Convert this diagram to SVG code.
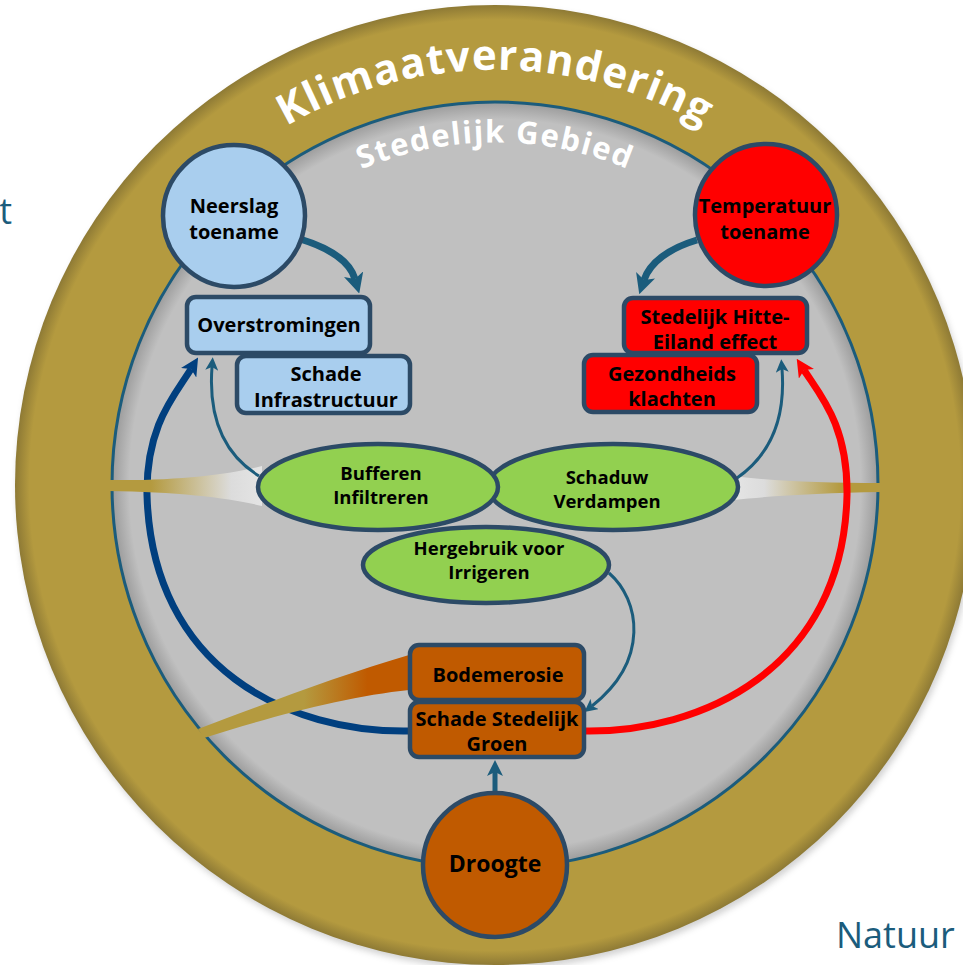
<svg xmlns="http://www.w3.org/2000/svg" width="963" height="965" viewBox="0 0 963 965">
<style>
.lbl{font-family:"Open Sans","Noto Sans","DejaVu Sans",sans-serif;font-weight:700;fill:#000;text-anchor:middle}
.box{stroke:#2C4A66;stroke-width:4.5}
.blue{fill:#A9CEEE}
.red{fill:#FF0000}
.green{fill:#92D050}
.orange{fill:#C05A00}
.thin{fill:none;stroke:#1B5C7C;stroke-width:3}
.title{font-family:"Open Sans","Noto Sans","DejaVu Sans",sans-serif;font-weight:700;fill:#fff}
.side{font-family:"Open Sans","Noto Sans","DejaVu Sans",sans-serif;font-size:36px;fill:#1B5C7C}
</style>
<defs>
<radialGradient id="gGold" cx="495" cy="485" r="480" gradientUnits="userSpaceOnUse">
<stop offset="0" stop-color="#B49A3F"/>
<stop offset="0.97" stop-color="#B49A3F"/>
<stop offset="1" stop-color="#8E7A35"/>
</radialGradient>
<radialGradient id="gGrey" cx="495" cy="485" r="383" gradientUnits="userSpaceOnUse">
<stop offset="0" stop-color="#C0C0C0"/>
<stop offset="0.955" stop-color="#C0C0C0"/>
<stop offset="1" stop-color="#9C9C9C"/>
</radialGradient>
<linearGradient id="rayL" x1="108" y1="0" x2="262" y2="0" gradientUnits="userSpaceOnUse">
<stop offset="0" stop-color="#B49A3F"/>
<stop offset="0.28" stop-color="#B49A3F"/>
<stop offset="0.8" stop-color="#DCDCDC"/>
<stop offset="1" stop-color="#E4E4E4"/>
</linearGradient>
<linearGradient id="rayR" x1="735" y1="0" x2="882" y2="0" gradientUnits="userSpaceOnUse">
<stop offset="0" stop-color="#E4E4E4"/>
<stop offset="0.2" stop-color="#DCDCDC"/>
<stop offset="0.72" stop-color="#B49A3F"/>
<stop offset="1" stop-color="#B49A3F"/>
</linearGradient>
<linearGradient id="rayB" x1="198" y1="0" x2="410" y2="0" gradientUnits="userSpaceOnUse">
<stop offset="0" stop-color="#B49A3F"/>
<stop offset="0.5" stop-color="#B49A3F"/>
<stop offset="0.8" stop-color="#C05A00"/>
<stop offset="1" stop-color="#C05A00"/>
</linearGradient>
<filter id="soft" x="-5%" y="-5%" width="110%" height="110%">
<feGaussianBlur stdDeviation="3"/>
</filter>
<marker id="mTealBig" viewBox="0 0 12 12" refX="3" refY="6" markerWidth="20" markerHeight="20" markerUnits="userSpaceOnUse" orient="auto">
<path d="M0,0 L12,6 L0,12 L3,6 Z" fill="#1B5C7C"/>
</marker>
<marker id="mTealMid" viewBox="0 0 12 12" refX="3" refY="6" markerWidth="16" markerHeight="16" markerUnits="userSpaceOnUse" orient="auto">
<path d="M0,0 L12,6 L0,12 L3,6 Z" fill="#1B5C7C"/>
</marker>
<marker id="mTealSmall" viewBox="0 0 12 12" refX="3" refY="6" markerWidth="13" markerHeight="13" markerUnits="userSpaceOnUse" orient="auto">
<path d="M0,0 L12,6 L0,12 L3,6 Z" fill="#1B5C7C"/>
</marker>
<marker id="mBlue" viewBox="0 0 12 12" refX="3" refY="6" markerWidth="18" markerHeight="18" markerUnits="userSpaceOnUse" orient="auto">
<path d="M0,0 L12,6 L0,12 L3,6 Z" fill="#003F7F"/>
</marker>
<marker id="mRed" viewBox="0 0 12 12" refX="3" refY="6" markerWidth="18" markerHeight="18" markerUnits="userSpaceOnUse" orient="auto">
<path d="M0,0 L12,6 L0,12 L3,6 Z" fill="#FF0000"/>
</marker>
<path id="titleArc" d="M 105 343 A 415 415 0 0 1 885 343"/>
<path id="subArc" d="M 172 370 A 343 343 0 0 1 818 370"/>
</defs>

<rect width="963" height="965" fill="#FFFFFF"/>

<g id="background">
<circle cx="497" cy="489" r="480" fill="#808080" opacity="0.35" filter="url(#soft)"/>
<circle cx="495" cy="485" r="480" fill="url(#gGold)"/>
<circle cx="495" cy="485" r="383" fill="url(#gGrey)" stroke="#1B5C7C" stroke-width="3"/>
<text class="title" font-size="42" letter-spacing="1"><textPath href="#titleArc" startOffset="50%" text-anchor="middle">Klimaatverandering</textPath></text>
<text class="title" font-size="31" letter-spacing="1.5"><textPath href="#subArc" startOffset="50%" text-anchor="middle">Stedelijk Gebied</textPath></text>
<text class="side" x="12" y="224" text-anchor="end">t</text>
<text class="side" x="836" y="948">Natuur</text>
</g>

<g id="connectors">
<path d="M 409 731 C 290 733 152 670 147 495 C 146 425 175 395 191 369" fill="none" stroke="#003F7F" stroke-width="7" marker-end="url(#mBlue)"/>
<path d="M 108 480 C 180 481 230 474 262 466 L 262 506 C 230 498 180 492 108 491 Z" fill="url(#rayL)"/>
<path d="M 409 655 C 340 675 262 705 198 729 L 204 738 C 272 716 350 696 409 690 Z" fill="url(#rayB)"/>
<path d="M 734 476 C 770 481 820 483 882 483 L 882 492 C 820 493 770 496 734 500 Z" fill="url(#rayR)"/>
<path d="M 584 731 C 700 733 843 670 847 495 C 848 425 820 395 804 370" fill="none" stroke="#FF0000" stroke-width="7" marker-end="url(#mRed)"/>
<path d="M 300 239 C 330 248 350 262 355 279" fill="none" stroke="#1B5C7C" stroke-width="7" marker-end="url(#mTealBig)"/>
<path d="M 697 240 C 670 248 650 262 644 280" fill="none" stroke="#1B5C7C" stroke-width="7" marker-end="url(#mTealBig)"/>
<path class="thin" d="M 259 476 C 225 455 208 420 212 367" marker-end="url(#mTealSmall)"/>
<path class="thin" d="M 737 478 C 770 455 786 420 782 369" marker-end="url(#mTealSmall)"/>
<path class="thin" d="M 609 573 C 640 600 650 660 592 706" marker-end="url(#mTealSmall)"/>
<path d="M 495 793 L 495 772" fill="none" stroke="#1B5C7C" stroke-width="5" marker-end="url(#mTealMid)"/>
</g>

<g id="neerslag">
<circle class="box blue" cx="234" cy="216" r="71"/>
<text class="lbl" font-size="20"><tspan x="234" y="213">Neerslag</tspan><tspan x="234" y="239">toename</tspan></text>
</g>
<g id="temperatuur">
<circle class="box red" cx="766" cy="215" r="71"/>
<text class="lbl" font-size="20"><tspan x="765" y="213">Temperatuur</tspan><tspan x="765" y="239">toename</tspan></text>
</g>
<g id="overstromingen">
<rect class="box blue" x="187" y="297" width="183" height="56" rx="9"/>
<text class="lbl" font-size="20" x="279" y="332">Overstromingen</text>
</g>
<g id="schade-infrastructuur">
<rect class="box blue" x="237" y="356" width="173" height="57" rx="9"/>
<text class="lbl" font-size="20"><tspan x="326" y="381">Schade</tspan><tspan x="326" y="407">Infrastructuur</tspan></text>
</g>
<g id="hitte-eiland">
<rect class="box red" x="624" y="298" width="183" height="55" rx="9"/>
<text class="lbl" font-size="20"><tspan x="715" y="324">Stedelijk Hitte-</tspan><tspan x="715" y="349">Eiland effect</tspan></text>
</g>
<g id="gezondheidsklachten">
<rect class="box red" x="584" y="355" width="173" height="57" rx="9"/>
<text class="lbl" font-size="20"><tspan x="672" y="381">Gezondheids</tspan><tspan x="672" y="406">klachten</tspan></text>
</g>
<g id="hergebruik">
<ellipse class="box green" cx="486" cy="565" rx="123" ry="38"/>
<text class="lbl" font-size="18.5"><tspan x="489" y="555">Hergebruik voor</tspan><tspan x="489" y="579">Irrigeren</tspan></text>
</g>
<g id="schaduw">
<ellipse class="box green" cx="613" cy="487" rx="125" ry="43"/>
<text class="lbl" font-size="18.5"><tspan x="607" y="484">Schaduw</tspan><tspan x="607" y="508">Verdampen</tspan></text>
</g>
<g id="bufferen">
<ellipse class="box green" cx="378" cy="487" rx="120" ry="43"/>
<text class="lbl" font-size="18.5"><tspan x="381" y="480">Bufferen</tspan><tspan x="381" y="504">Infiltreren</tspan></text>
</g>
<g id="bodemerosie">
<rect class="box orange" x="410" y="645" width="174" height="55" rx="9"/>
<text class="lbl" font-size="20" x="498" y="682">Bodemerosie</text>
</g>
<g id="schade-stedelijk-groen">
<rect class="box orange" x="410" y="702" width="174" height="55" rx="9"/>
<text class="lbl" font-size="20"><tspan x="497" y="726">Schade Stedelijk</tspan><tspan x="497" y="751">Groen</tspan></text>
</g>
<g id="droogte">
<circle class="box orange" cx="495" cy="865" r="72"/>
<text class="lbl" font-size="23" x="495" y="872">Droogte</text>
</g>
</svg>
